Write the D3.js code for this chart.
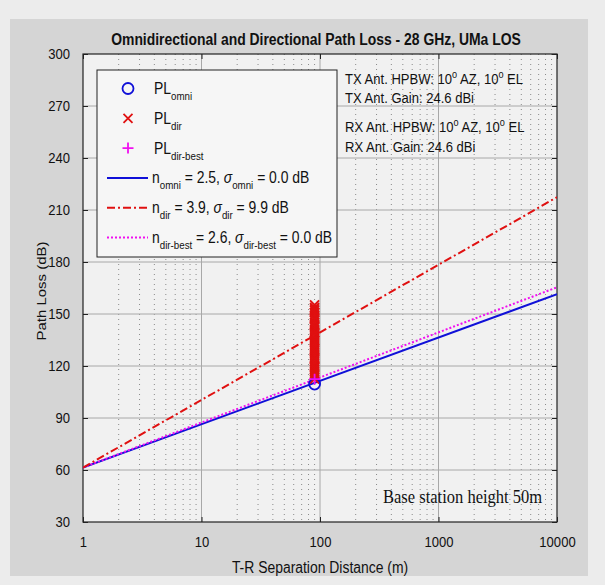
<!DOCTYPE html>
<html><head><meta charset="utf-8">
<script src="https://cdn.jsdelivr.net/npm/d3@7"></script>
<style>
html,body{margin:0;padding:0;background:#ececec;}
svg{display:block;}
</style></head><body>
<svg id="chart" width="605" height="585"></svg>
<script>
// ---------- data ----------
const chartTitle = "Omnidirectional and Directional Path Loss - 28 GHz, UMa LOS";
const xLabel = "T-R Separation Distance (m)";
const yLabel = "Path Loss (dB)";
const xTicks = [1, 10, 100, 1000, 10000];
const yTicks = [30, 60, 90, 120, 150, 180, 210, 240, 270, 300];
const fitDistances = [1, 10000];
const fitOmni = [61.4, 161.4];      // n = 2.5
const fitDir = [61.4, 217.4];       // n = 3.9
const fitDirBest = [61.4, 165.4];   // n = 2.6
const measDistance = 90;
const omniPL = [109.6];
const dirBestPL = [112.4];
const dirPL = [155.2, 153.8, 152.9, 152.1, 151.0, 150.6, 149.3, 148.0, 147.4, 146.7, 145.2, 144.0,
  143.1, 142.6, 141.3, 140.1, 139.4, 138.8, 137.5, 136.2, 135.0, 134.6, 133.7, 132.4, 131.2,
  130.0, 129.3, 128.7, 127.5, 126.2, 125.0, 124.1, 123.8, 122.5, 121.3, 120.1, 119.5, 118.9,
  117.7, 116.5, 115.4, 114.3, 113.3, 112.4];
const annotationLines = [
  [["TX Ant. HPBW: 10", 0], ["o", 2], [" AZ, 10", 0], ["o", 2], [" EL", 0]],
  [["TX Ant. Gain: 24.6 dBi", 0]],
  [["RX Ant. HPBW: 10", 0], ["o", 2], [" AZ, 10", 0], ["o", 2], [" EL", 0]],
  [["RX Ant. Gain: 24.6 dBi", 0]]
];
const footNote = "Base station height 50m";
// legend: segments [text, kind]  kind 0 normal, 1 subscript, 3 italic
const legendEntries = [
  {type: "circle", color: "#1010d8", label: [["PL", 0], ["omni", 1]]},
  {type: "cross", color: "#e01010", label: [["PL", 0], ["dir", 1]]},
  {type: "plus", color: "#f010f0", label: [["PL", 0], ["dir-best", 1]]},
  {type: "line", color: "#1010d8", dash: null, label: [["n", 0], ["omni", 1], [" = 2.5, ", 0], ["σ", 3], ["omni", 1], [" = 0.0 dB", 0]]},
  {type: "line", color: "#e01010", dash: "8,3,2,3", label: [["n", 0], ["dir", 1], [" = 3.9, ", 0], ["σ", 3], ["dir", 1], [" = 9.9 dB", 0]]},
  {type: "line", color: "#f010f0", dash: "2,2", label: [["n", 0], ["dir-best", 1], [" = 2.6, ", 0], ["σ", 3], ["dir-best", 1], [" = 0.0 dB", 0]]}
];

// ---------- layout ----------
const S = 0.87; // horizontal condensing of all text
const SANS = "'Liberation Sans', Arial, sans-serif";
const SERIF = "'Liberation Serif', 'Times New Roman', serif";
const plot = {left: 83, right: 557, top: 54, bottom: 522};
const svg = d3.select("#chart");

svg.append("rect").attr("x", 10).attr("y", 19).attr("width", 578).attr("height", 557).attr("fill", "#d5d5d5");
svg.append("rect").attr("x", plot.left).attr("y", plot.top)
  .attr("width", plot.right - plot.left).attr("height", plot.bottom - plot.top).attr("fill", "#f1f1f1");

const x = d3.scaleLog().domain([1, 10000]).range([plot.left, plot.right]);
const y = d3.scaleLinear().domain([30, 300]).range([plot.bottom, plot.top]);

// grid
const minor = [];
for (let p = 0; p < 4; p++) for (let m = 2; m <= 9; m++) minor.push(m * Math.pow(10, p));
const grid = svg.append("g");
grid.selectAll(".mx").data(minor).join("line")
  .attr("x1", d => x(d)).attr("x2", d => x(d)).attr("y1", plot.top).attr("y2", plot.bottom)
  .attr("stroke", "#8a8a8a").attr("stroke-width", 1).attr("stroke-dasharray", "1,4");
grid.selectAll(".gx").data(xTicks.slice(1, -1)).join("line")
  .attr("x1", d => x(d)).attr("x2", d => x(d)).attr("y1", plot.top).attr("y2", plot.bottom)
  .attr("stroke", "#a8a8a8").attr("stroke-width", 1);
grid.selectAll(".gy").data(yTicks.slice(1, -1)).join("line")
  .attr("y1", d => y(d)).attr("y2", d => y(d)).attr("x1", plot.left).attr("x2", plot.right)
  .attr("stroke", "#a8a8a8").attr("stroke-width", 1);

// axes
const fmt = d3.format("d");
const ax = svg.append("g").attr("transform", `translate(0,${plot.bottom})`)
  .call(d3.axisBottom(x).tickValues(xTicks).tickFormat(fmt).tickSizeInner(-5).tickSizeOuter(0).tickPadding(14));
const ay = svg.append("g").attr("transform", `translate(${plot.left},0)`)
  .call(d3.axisLeft(y).tickValues(yTicks).tickFormat(fmt).tickSizeInner(-5).tickSizeOuter(0).tickPadding(15));
const at = svg.append("g").attr("transform", `translate(0,${plot.top})`)
  .call(d3.axisTop(x).tickValues(xTicks).tickFormat("").tickSizeInner(-5).tickSizeOuter(0));
const ar = svg.append("g").attr("transform", `translate(${plot.right},0)`)
  .call(d3.axisRight(y).tickValues(yTicks).tickFormat("").tickSizeInner(-5).tickSizeOuter(0));
[ax, ay, at, ar].forEach(a => {
  a.select(".domain").remove();
  a.selectAll(".tick line").attr("stroke", "#222");
  a.selectAll("text").style("font-size", "15px").style("font-family", SANS)
    .attr("fill", "#111").attr("transform", `scale(${S},1)`);
});
svg.append("rect").attr("x", plot.left).attr("y", plot.top)
  .attr("width", plot.right - plot.left).attr("height", plot.bottom - plot.top)
  .attr("fill", "none").attr("stroke", "#222").attr("stroke-width", 1.2);

// fitted lines
const lineGen = d3.line().x(d => x(d[0])).y(d => y(d[1]));
const fits = [
  {vals: fitOmni, color: "#1010d8", dash: null},
  {vals: fitDirBest, color: "#f010f0", dash: "2,2"},
  {vals: fitDir, color: "#e01010", dash: "8,3,2,3"}
];
const clipId = "clipPlot";
svg.append("clipPath").attr("id", clipId).append("rect")
  .attr("x", plot.left).attr("y", plot.top).attr("width", plot.right - plot.left).attr("height", plot.bottom - plot.top);
const lg = svg.append("g").attr("clip-path", `url(#${clipId})`);
fits.forEach(f => {
  lg.append("path").datum(fitDistances.map((d, i) => [d, f.vals[i]]))
    .attr("d", lineGen).attr("fill", "none").attr("stroke", f.color).attr("stroke-width", 2)
    .attr("stroke-dasharray", f.dash);
});

// markers
function marker(g, type, cx, cy, color) {
  if (type === "circle") {
    g.append("circle").attr("cx", cx).attr("cy", cy).attr("r", 5.5)
      .attr("fill", "none").attr("stroke", color).attr("stroke-width", 1.8);
  } else if (type === "cross") {
    const s = 4.5;
    g.append("path").attr("d", `M${cx - s},${cy - s}L${cx + s},${cy + s}M${cx - s},${cy + s}L${cx + s},${cy - s}`)
      .attr("stroke", color).attr("stroke-width", 1.8).attr("fill", "none");
  } else {
    const s = 5.5;
    g.append("path").attr("d", `M${cx - s},${cy}L${cx + s},${cy}M${cx},${cy - s}L${cx},${cy + s}`)
      .attr("stroke", color).attr("stroke-width", 1.8).attr("fill", "none");
  }
}
const mg = svg.append("g");
dirPL.forEach(v => marker(mg, "cross", x(measDistance), y(v), "#e01010"));
omniPL.forEach(v => marker(mg, "circle", x(measDistance), y(v), "#1010d8"));
dirBestPL.forEach(v => marker(mg, "plus", x(measDistance), y(v), "#f010f0"));

// text helper
function richText(parent, px, py, segs, opts) {
  const g = parent.append("g").attr("transform", `translate(${px},${py}) scale(${S},1)`);
  const t = g.append("text").attr("x", 0).attr("y", 0).attr("fill", "#111")
    .style("font-size", opts.size + "px").style("font-family", opts.family || SANS)
    .attr("text-anchor", opts.anchor || "start");
  if (opts.weight) t.style("font-weight", opts.weight);
  let shift = 0;
  segs.forEach(([s, k]) => {
    const ts = t.append("tspan").text(s);
    let target = 0;
    if (k === 1) { ts.style("font-size", (opts.size * 0.7) + "px"); target = opts.size * 0.38; }
    if (k === 2) { ts.style("font-size", (opts.size * 0.7) + "px"); target = -opts.size * 0.42; }
    if (k === 3) { ts.style("font-style", "italic"); }
    if (target !== shift) { ts.attr("dy", target - shift); shift = target; }
  });
  return t;
}

// title & labels
richText(svg, 316, 45, [[chartTitle, 0]], {size: 16, anchor: "middle", weight: "bold"});
richText(svg, 320, 573, [[xLabel, 0]], {size: 16, anchor: "middle"});
svg.append("text").attr("transform", `translate(46,291) rotate(-90) scale(1,${S})`)
  .attr("text-anchor", "middle").attr("fill", "#111")
  .style("font-size", "15px").style("font-family", SANS).text(yLabel);

// annotations
const annY = [84, 103, 132, 152];
annotationLines.forEach((segs, i) => richText(svg, 345, annY[i], segs, {size: 15}));
richText(svg, 383, 503, [[footNote, 0]], {size: 19, family: SERIF});

// legend
const leg = {x: 97, y: 70, w: 240, h: 187, row0: 88.5, step: 29.8};
svg.append("rect").attr("x", leg.x).attr("y", leg.y).attr("width", leg.w).attr("height", leg.h)
  .attr("fill", "#f6f6f6").attr("stroke", "#222").attr("stroke-width", 1);
legendEntries.forEach((e, i) => {
  const cy = leg.row0 + i * leg.step;
  if (e.type === "line") {
    svg.append("line").attr("x1", 107).attr("x2", 148).attr("y1", cy).attr("y2", cy)
      .attr("stroke", e.color).attr("stroke-width", 2).attr("stroke-dasharray", e.dash);
  } else {
    marker(svg, e.type, 128, cy, e.color);
  }
  richText(svg, e.type === "line" ? 152 : 154, cy + 5.5, e.label, {size: 16});
});
</script>
</body></html>
